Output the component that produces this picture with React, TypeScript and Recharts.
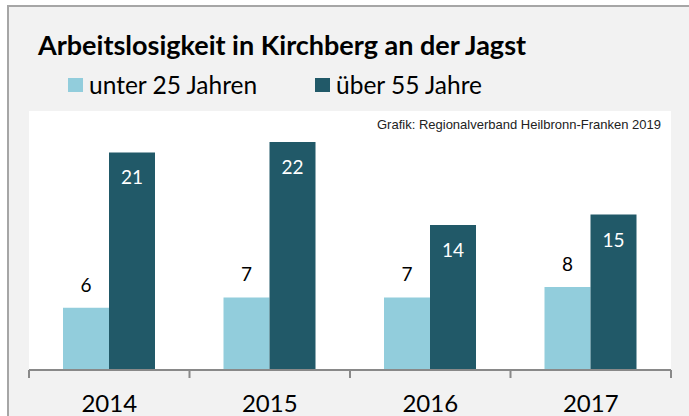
import React from "react";
import { BarChart, Bar, XAxis, YAxis, CartesianGrid, LabelList } from "recharts";

const years = ["2014", "2015", "2016", "2017"];
const under25 = [6, 7, 7, 8];
const over55 = [21, 22, 14, 15];
const seriesNames = ["unter 25 Jahren", "über 55 Jahre"];
const title = "Arbeitslosigkeit in Kirchberg an der Jagst";
const source = "Grafik: Regionalverband Heilbronn-Franken 2019";

const data = years.map((y, i) => ({ year: y, u25: under25[i], o55: over55[i] }));

const W = 689;
const H = 416;
const M = { top: 111, right: 18, left: 29, bottom: 0 };
const PLOT_W = W - M.left - M.right;
const BAND = PLOT_W / years.length;
const LIGHT = "#92cddc";
const DARK = "#215968";
const AXIS = "#898989";
const FONT = "Lato, 'Open Sans', sans-serif";

const YearTick = (props: any) => {
  const { x, y, payload, index } = props;
  const half = BAND / 2;
  return (
    <g>
      <line x1={x - half} x2={x - half} y1={y - 8} y2={y} stroke={AXIS} strokeWidth={2} />
      {index === years.length - 1 && (
        <line x1={x + half} x2={x + half} y1={y - 8} y2={y} stroke={AXIS} strokeWidth={2} />
      )}
      <text x={x} y={y + 34} textAnchor="middle" fontSize={24} fontFamily={FONT} fill="#000">
        {payload.value}
      </text>
    </g>
  );
};

const LightLabel = (props: any) => {
  const { x, y, width, value } = props;
  return (
    <text x={x + width / 2} y={y - 16} textAnchor="middle" fontSize={19} fontFamily={FONT} fill="#000">
      {value}
    </text>
  );
};

const DarkLabel = (props: any) => {
  const { x, y, width, value } = props;
  return (
    <text x={x + width / 2} y={y + 32} textAnchor="middle" fontSize={19} fontFamily={FONT} fill="#fff">
      {value}
    </text>
  );
};

export default function App() {
  return (
    <div style={{ position: "absolute", left: 0, top: 0, width: W, height: H, background: "#fff", overflow: "hidden" }}>
      <div
        style={{
          position: "absolute",
          left: 7,
          top: 5,
          right: 0,
          bottom: 0,
          background: "#f2f2f2",
          borderTop: "2px solid #a6a6a6",
          borderLeft: "2px solid #a6a6a6",
        }}
      />
      <div
        style={{
          position: "absolute",
          left: 38,
          top: 29,
          fontFamily: FONT,
          fontWeight: 700,
          fontSize: 27,
          lineHeight: "32px",
          color: "#000",
          whiteSpace: "nowrap",
        }}
      >
        {title}
      </div>
      <div style={{ position: "absolute", left: 68, top: 78, width: 15, height: 14, background: LIGHT }} />
      <div
        style={{ position: "absolute", left: 89, top: 69.5, fontFamily: FONT, fontSize: 24.5, lineHeight: "30px", whiteSpace: "nowrap" }}
      >
        {seriesNames[0]}
      </div>
      <div style={{ position: "absolute", left: 315, top: 78, width: 15, height: 14, background: DARK }} />
      <div
        style={{ position: "absolute", left: 336, top: 69.5, fontFamily: FONT, fontSize: 24.5, lineHeight: "30px", whiteSpace: "nowrap" }}
      >
        {seriesNames[1]}
      </div>
      <div style={{ position: "absolute", left: 0, top: 0 }}>
        <BarChart width={W} height={H} data={data} margin={M} barCategoryGap={34} barGap={0}>
          <CartesianGrid fill="#ffffff" horizontal={false} vertical={false} />
          <YAxis hide domain={[0, 25]} />
          <XAxis
            dataKey="year"
            height={46}
            axisLine={{ stroke: AXIS, strokeWidth: 2 }}
            tickLine={false}
            tickSize={8}
            tickMargin={0}
            tick={<YearTick />}
            interval={0}
          />
          <Bar dataKey="u25" name={seriesNames[0]} fill={LIGHT} isAnimationActive={false}>
            <LabelList dataKey="u25" content={<LightLabel />} />
          </Bar>
          <Bar dataKey="o55" name={seriesNames[1]} fill={DARK} isAnimationActive={false}>
            <LabelList dataKey="o55" content={<DarkLabel />} />
          </Bar>
        </BarChart>
      </div>
      <div
        style={{
          position: "absolute",
          right: W - 661,
          top: 117,
          fontFamily: "'Liberation Sans', Arial, sans-serif",
          fontSize: 13,
          lineHeight: "16px",
          color: "#222",
          whiteSpace: "nowrap",
        }}
      >
        {source}
      </div>
    </div>
  );
}
